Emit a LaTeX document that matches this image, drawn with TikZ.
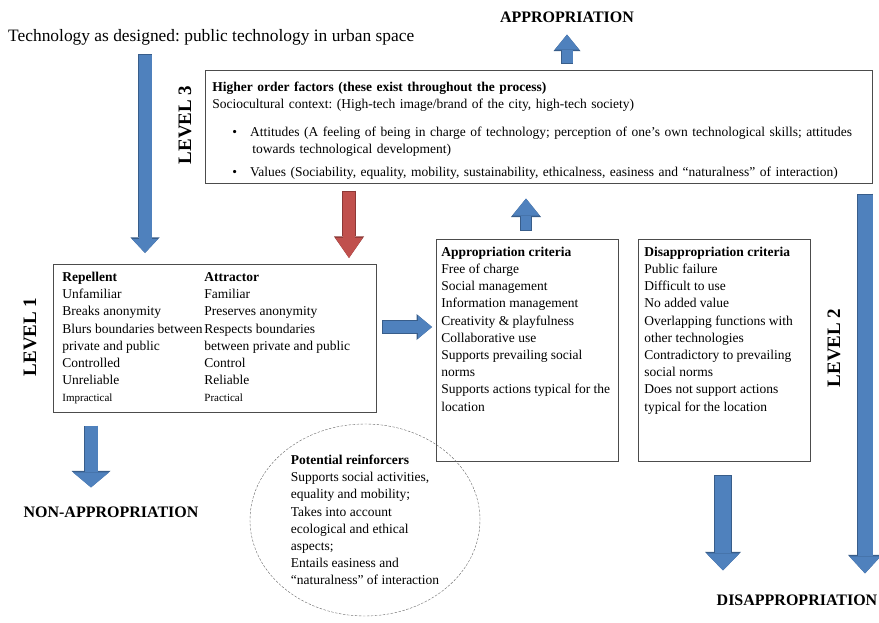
\documentclass[tikz,border=0pt]{standalone}
\usepackage{fontspec}
\setmainfont{Liberation Serif}
\usetikzlibrary{arrows.meta,shapes.geometric}
\definecolor{arrowblue}{HTML}{4F81BD}
\definecolor{arrowblueedge}{HTML}{385D8A}
\definecolor{arrowred}{HTML}{C0504D}
\definecolor{arrowrededge}{HTML}{8C3836}

\begin{document}
\frenchspacing
\begin{tikzpicture}[x=1pt,y=-1pt,
  every node/.style={font=\fontsize{13.5}{17.2}\selectfont},
  box/.style={draw=black!70,line width=0.8pt,anchor=north west,align=left,inner xsep=7pt,inner ysep=4pt},
  heading/.style={inner sep=0pt,font=\fontsize{16}{19}\selectfont\bfseries},
  levellabel/.style={inner sep=0pt,rotate=90,font=\fontsize{19}{22}\selectfont\bfseries},
  blockarrow/.style n args={5}{preaction={draw=#2,line width=#3+1.6pt,shorten <=-0.8pt,
      -{Triangle[width=#4+3pt,length=#5+1.5pt,line width=0pt]}},
    draw=#1,line width=#3,-{Triangle[width=#4,length=#5,line width=0pt]}},
  bluearrow/.style n args={3}{blockarrow={arrowblue}{arrowblueedge}{#1}{#2}{#3}},
  redarrow/.style n args={3}{blockarrow={arrowred}{arrowrededge}{#1}{#2}{#3}}]
  \useasboundingbox (0,0) rectangle (879,623);

  % outcomes
  \node[anchor=west,inner sep=0pt,font=\fontsize{17.4}{20}\selectfont] (title) at (8,37)
    {Technology as designed: public technology in urban space};
  \node[heading] (appr) at (567,17) {APPROPRIATION};
  \node[heading] (nonappr) at (111,512) {NON-APPROPRIATION};
  \node[heading] (disappr) at (797,600) {DISAPPROPRIATION};

  % level 3
  \node[box,text width=653pt,minimum width=667pt] (lev3) at (205,70) {%
    \rule{0pt}{17pt}\textbf{Higher order factors (these exist throughout the process)}\\
    Sociocultural context: (High-tech image/brand of the city, high-tech society)\\[11pt]
    \hspace*{20pt}\textbullet\hspace{13pt}Attitudes (A feeling of being in charge of technology; perception of one’s own technological skills; attitudes\\
    \hspace*{40pt}towards technological development)\\[5pt]
    \hspace*{20pt}\textbullet\hspace{13pt}Values (Sociability, equality, mobility, sustainability, ethicalness, easiness and “naturalness” of interaction)};
  \node[levellabel] (lab3) at (185,125) {LEVEL 3};

  % level 1
  \node[box,inner xsep=9pt,inner ysep=5pt] (lev1) at (53,264) {%
    \begin{tabular}{@{}p{142pt}@{}p{163pt}@{}}
      \textbf{Repellent} & \textbf{Attractor}\\
      Unfamiliar & Familiar\\
      Breaks anonymity & Preserves anonymity\\
      Blurs boundaries between & Respects boundaries\\
      private and public & between private and public\\
      Controlled & Control\\
      Unreliable & Reliable\\
      {\fontsize{11}{17}\selectfont Impractical} & {\fontsize{11}{17}\selectfont Practical}
    \end{tabular}};
  \node[levellabel] (lab1) at (30,337) {LEVEL 1};

  % level 2
  \node[box,inner xsep=5pt,inner ysep=4pt] (crit) at (436,239) {%
    \parbox[t][214pt]{172pt}{\raggedright
      \rule{0pt}{13pt}\textbf{Appropriation criteria}\\
      Free of charge\\
      Social management\\
      Information management\\
      Creativity \& playfulness\\
      Collaborative use\\
      Supports prevailing social\\
      norms\\
      Supports actions typical for the\\
      location}};
  \node[box,inner xsep=6pt,inner ysep=4pt] (dis) at (638,239) {%
    \parbox[t][214pt]{160pt}{\raggedright
      \rule{0pt}{13pt}\textbf{Disappropriation criteria}\\
      Public failure\\
      Difficult to use\\
      No added value\\
      Overlapping functions with\\
      other technologies\\
      Contradictory to prevailing\\
      social norms\\
      Does not support actions\\
      typical for the location}};
  \node[levellabel] (lab2) at (834,348) {LEVEL 2};

  \node[ellipse,draw=black!60,dash pattern=on 2.5pt off 1.5pt,inner sep=0pt,
    minimum width=230pt,minimum height=192pt,align=left] (reinf) at (365,520) {%
    \textbf{Potential reinforcers}\\
    Supports social activities,\\
    equality and mobility;\\
    Takes into account\\
    ecological and ethical\\
    aspects;\\
    Entails easiness and\\
    “naturalness” of interaction};

  % arrow lines
  \coordinate (c1) at (145,0);
  \coordinate (c2) at (349,0);
  \coordinate (c3) at (526,0);
  \coordinate (c5) at (0,327);
  \coordinate (c6) at (91,0);
  \coordinate (c7) at (723,0);
  \coordinate (c8) at (865,0);

  % block arrows
  \draw[bluearrow={13pt}{26pt}{14pt}] ([yshift=-10pt]title.south -| c1) -- ([yshift=11pt]lev1.north -| c1);
  \draw[redarrow={12pt}{27pt}{20pt}] ([yshift=-8pt]lev3.south -| c2) -- ([yshift=6pt]lev1.north -| c2);
  \draw[bluearrow={10pt}{27pt}{17pt}] ([yshift=9pt]crit.north -| c3) -- ([yshift=-15pt]lev3.south -| c3);
  \draw[bluearrow={11pt}{24pt}{15pt}] ([yshift=7pt]lev3.north -| appr) -- ([yshift=-12pt]appr.south);
  \draw[bluearrow={12pt}{23pt}{14pt}] ([xshift=6pt]lev1.east |- c5) -- ([xshift=-4pt]crit.west |- c5);
  \draw[bluearrow={13pt}{36pt}{15pt}] ([yshift=-14pt]lev1.south -| c6) -- ([yshift=19pt]nonappr.north -| c6);
  \draw[bluearrow={16pt}{33pt}{17pt}] ([yshift=-14pt]dis.south -| c7) -- ([yshift=24pt]disappr.north -| c7);
  \draw[bluearrow={15pt}{31pt}{17pt}] ([yshift=-11pt]lev3.south -| c8) -- ([yshift=21pt]disappr.north -| c8);
\end{tikzpicture}
\end{document}
